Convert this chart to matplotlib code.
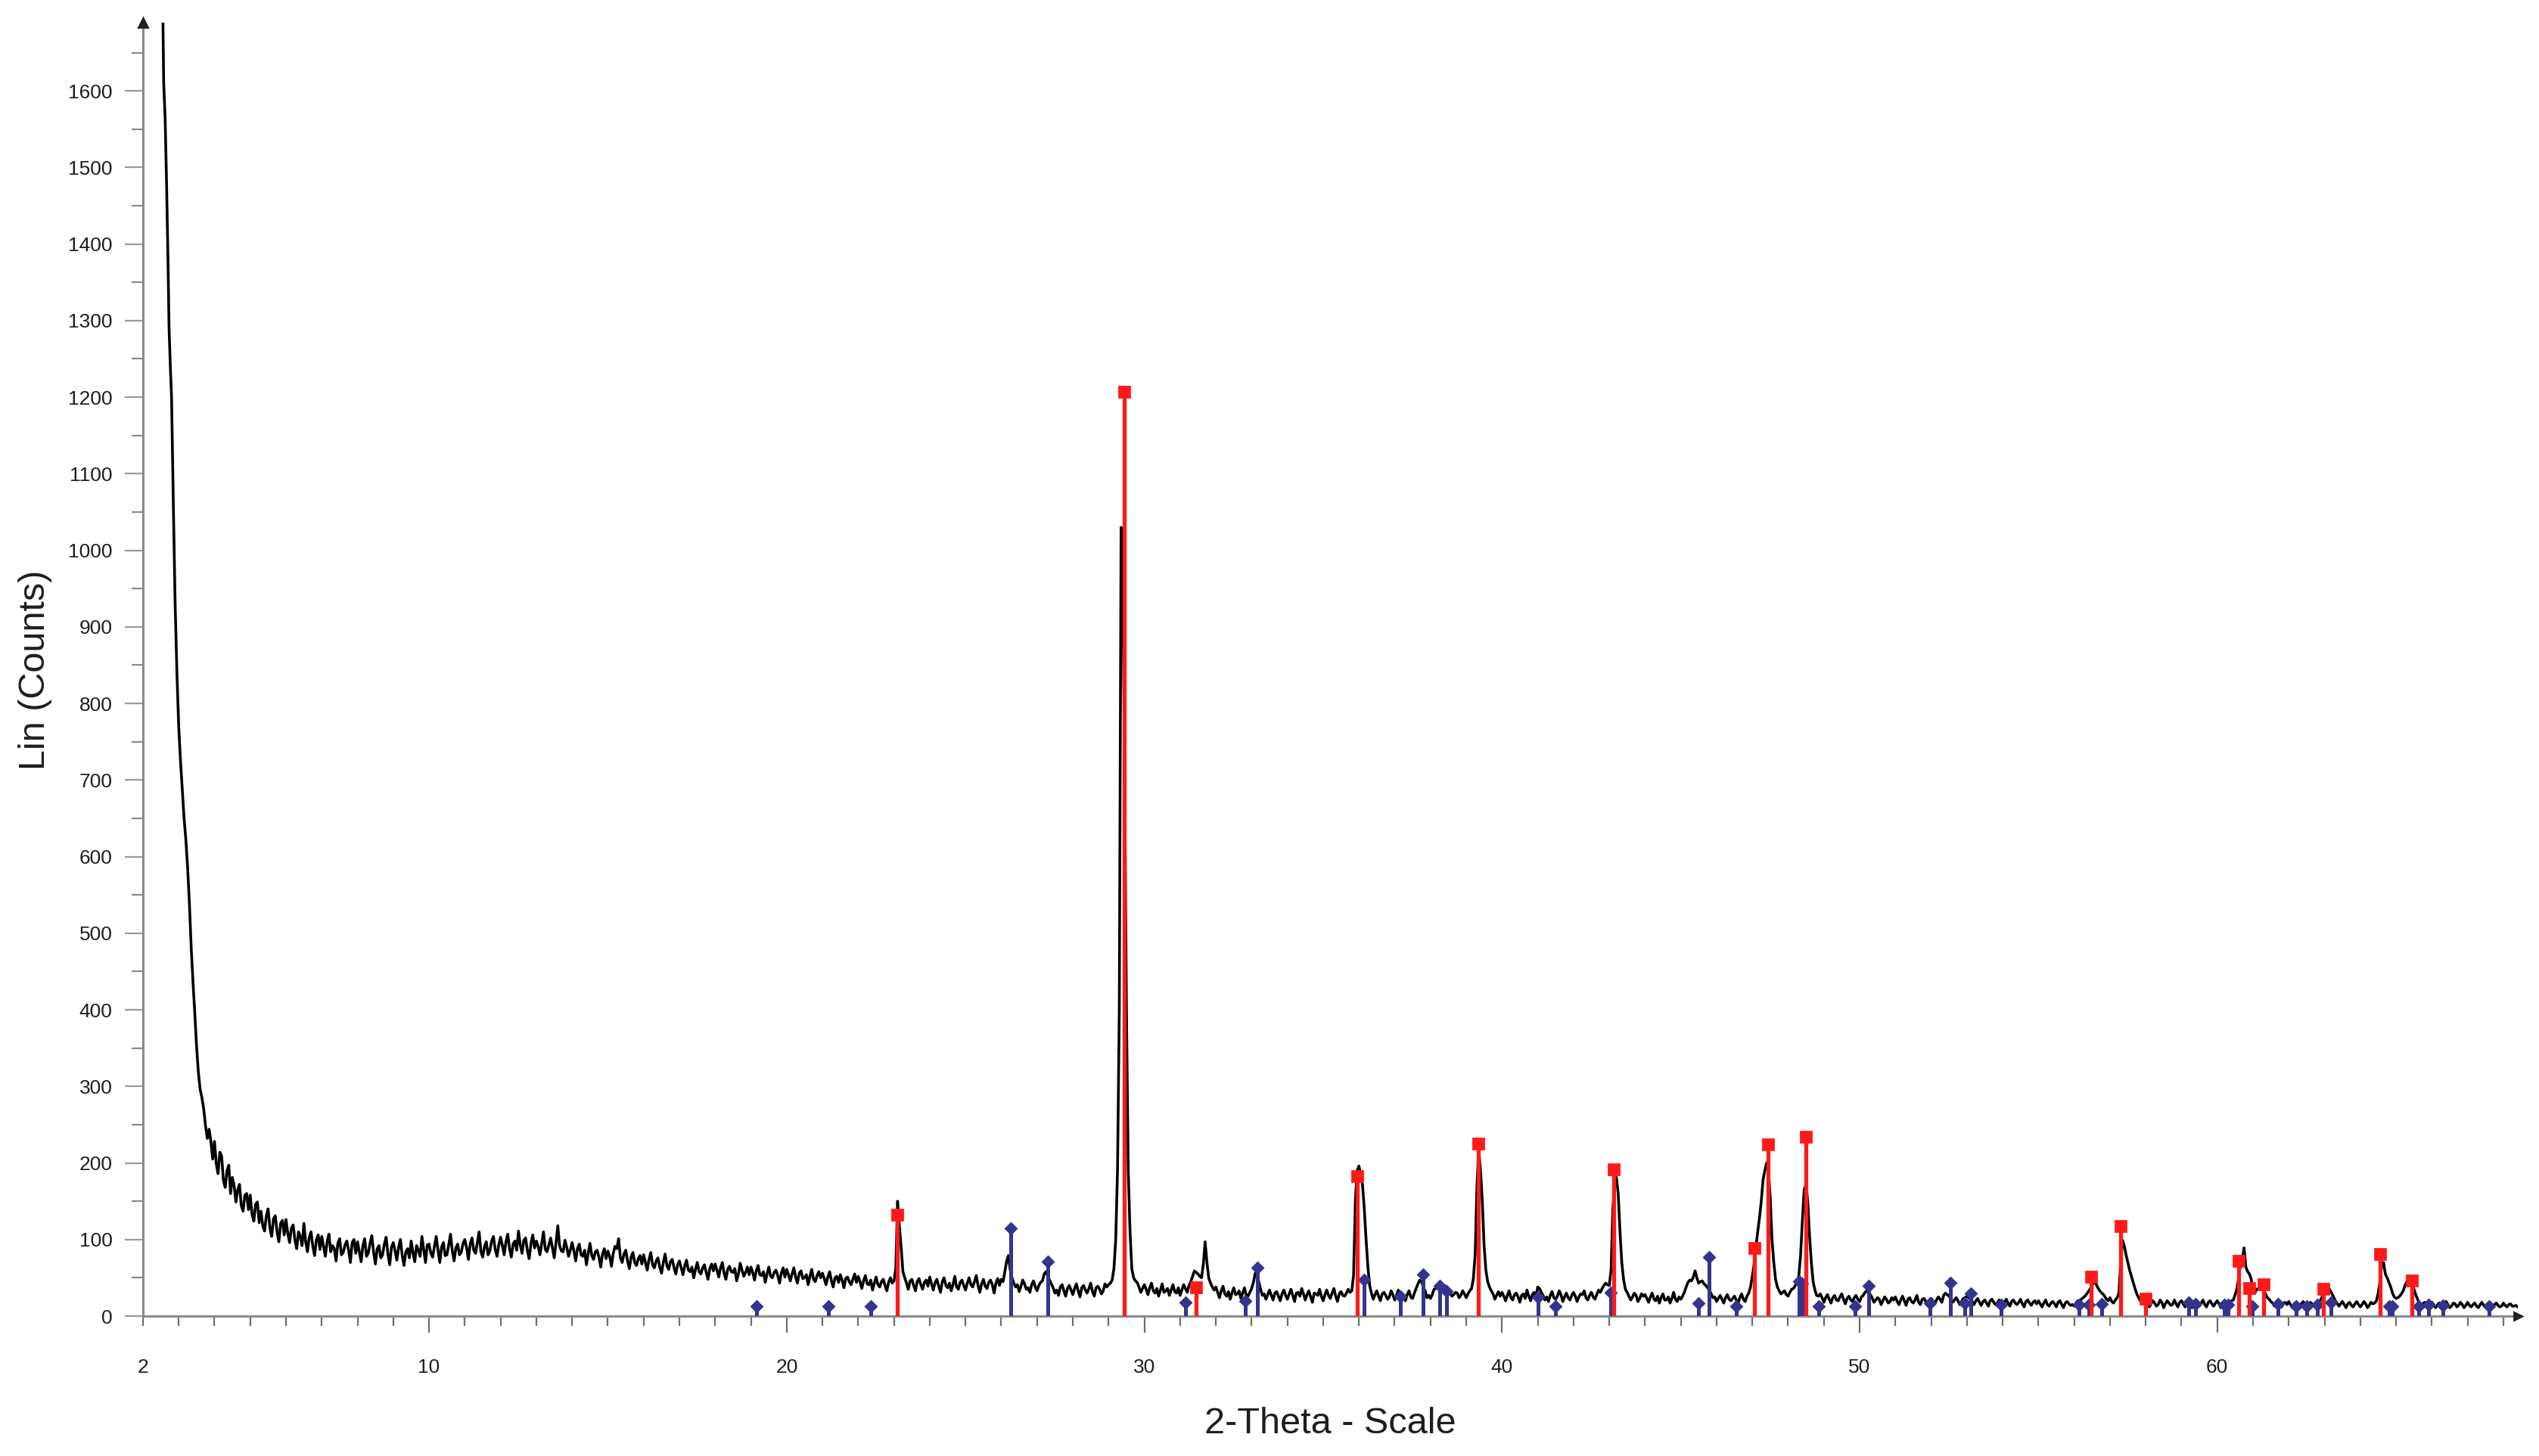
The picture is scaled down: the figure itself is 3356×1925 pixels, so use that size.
import numpy as np
import matplotlib.pyplot as plt
from matplotlib.ticker import MultipleLocator

plt.rcParams['font.family'] = ['Liberation Sans', 'DejaVu Sans']

# scan: one row of counts per degree, 0.05 deg apart
scan_start = 3.0
scan_step = 0.05
scan_counts = [
    [770, 725, 688, 650, 622, 585, 538, 480, 436, 395, 352, 318, 296, 285, 270, 248, 232, 244, 228, 205],  # 3
    [228, 199, 186, 214, 209, 177, 168, 190, 197, 160, 181, 170, 149, 165, 172, 144, 137, 158, 160, 139],  # 4
    [158, 133, 124, 146, 149, 122, 137, 118, 111, 131, 140, 115, 104, 127, 131, 110, 97, 121, 125, 106],   # 5
    [126, 108, 96, 115, 119, 99, 88, 110, 104, 92, 121, 97, 84, 103, 110, 91, 79, 100, 106, 87],           # 6
    [104, 91, 78, 97, 107, 84, 92, 88, 72, 95, 101, 80, 83, 93, 98, 86, 70, 96, 100, 82],                  # 7
    [97, 84, 71, 92, 101, 78, 82, 95, 105, 83, 68, 88, 92, 76, 80, 94, 103, 81, 67, 90],                   # 8
    [96, 85, 73, 90, 100, 79, 66, 84, 88, 76, 98, 83, 71, 92, 86, 78, 104, 87, 70, 93],                    # 9
    [94, 82, 77, 91, 104, 86, 70, 90, 96, 79, 80, 93, 107, 85, 72, 89, 94, 80, 83, 95],                    # 10
    [100, 89, 74, 94, 102, 86, 82, 96, 110, 84, 77, 91, 97, 80, 85, 98, 104, 87, 78, 93],                  # 11
    [103, 92, 80, 97, 107, 88, 77, 94, 98, 86, 111, 93, 82, 99, 102, 85, 75, 95, 106, 89],                 # 12
    [98, 91, 80, 95, 110, 87, 84, 93, 102, 89, 76, 96, 118, 92, 85, 84, 99, 90, 78, 86],                   # 13
    [96, 85, 72, 88, 94, 80, 78, 86, 67, 82, 95, 79, 74, 84, 86, 77, 64, 81, 88, 75],                      # 14
    [85, 78, 65, 82, 91, 88, 101, 76, 70, 81, 86, 72, 62, 77, 83, 70, 66, 75, 79, 68],                     # 15
    [80, 70, 60, 74, 83, 67, 63, 72, 76, 64, 56, 70, 81, 66, 61, 71, 74, 63, 55, 67],                      # 16
    [72, 63, 54, 66, 73, 60, 58, 64, 50, 61, 70, 58, 55, 63, 67, 57, 48, 62, 68, 59],                      # 17
    [68, 60, 51, 63, 70, 56, 48, 61, 65, 58, 57, 62, 46, 55, 69, 60, 52, 57, 64, 54],                      # 18
    [64, 57, 47, 59, 66, 54, 53, 58, 44, 55, 64, 52, 50, 57, 60, 53, 43, 56, 63, 51],                      # 19
    [61, 54, 46, 55, 63, 51, 43, 56, 59, 49, 50, 54, 41, 52, 61, 48, 45, 53, 58, 50],                      # 20
    [56, 49, 41, 51, 58, 46, 38, 50, 52, 44, 54, 47, 37, 49, 51, 45, 41, 48, 55, 44],                      # 21
    [52, 45, 36, 46, 53, 42, 41, 47, 34, 43, 51, 41, 38, 45, 48, 40, 33, 44, 50, 43],                      # 22
    [46, 62, 150, 118, 90, 58, 50, 43, 35, 46, 48, 40, 33, 45, 49, 41, 35, 44, 47, 39],                    # 23
    [51, 42, 34, 44, 48, 39, 31, 45, 50, 40, 37, 43, 33, 41, 52, 38, 35, 44, 47, 40],                      # 24
    [34, 43, 50, 41, 38, 45, 53, 40, 31, 42, 48, 39, 36, 44, 47, 41, 30, 43, 49, 40],                      # 25
    [48, 45, 58, 72, 79, 60, 50, 43, 38, 41, 32, 39, 47, 42, 35, 37, 31, 41, 46, 38],                      # 26
    [33, 40, 44, 46, 55, 58, 52, 47, 42, 37, 30, 34, 27, 38, 41, 33, 26, 36, 40, 34],                      # 27
    [28, 36, 42, 33, 25, 37, 40, 34, 30, 36, 43, 32, 26, 37, 39, 35, 29, 33, 42, 38],                      # 28
    [41, 43, 47, 62, 100, 190, 400, 1030, 950, 700, 400, 190, 110, 62, 50, 46, 44, 38, 31, 36],            # 29
    [41, 35, 28, 37, 43, 33, 30, 36, 26, 34, 42, 31, 33, 36, 27, 34, 41, 32, 30, 37],                      # 30
    [27, 34, 41, 36, 31, 40, 45, 52, 59, 57, 55, 52, 50, 68, 97, 70, 50, 43, 38, 34],                      # 31
    [38, 31, 24, 33, 39, 29, 26, 32, 22, 30, 37, 28, 29, 33, 23, 30, 37, 27, 26, 31],                      # 32
    [36, 44, 56, 52, 45, 35, 27, 29, 22, 28, 34, 27, 21, 30, 32, 26, 20, 29, 34, 27],                      # 33
    [22, 29, 35, 27, 19, 30, 31, 26, 36, 29, 21, 28, 33, 25, 18, 30, 29, 27, 35, 26],                      # 34
    [20, 28, 34, 27, 23, 30, 36, 26, 19, 29, 32, 27, 26, 30, 35, 31, 33, 53, 150, 190],                    # 35
    [196, 185, 172, 140, 100, 65, 40, 30, 22, 28, 33, 26, 20, 29, 31, 27, 22, 25, 33, 28],                 # 36
    [21, 27, 34, 29, 24, 26, 20, 28, 33, 25, 23, 30, 36, 42, 47, 45, 38, 33, 24, 27],                      # 37
    [23, 28, 35, 36, 40, 42, 37, 39, 40, 37, 33, 31, 26, 28, 31, 30, 24, 27, 33, 29],                      # 38
    [24, 29, 33, 36, 49, 80, 170, 217, 190, 150, 92, 60, 45, 38, 33, 29, 22, 27, 32, 26],                  # 39
    [31, 26, 20, 27, 33, 24, 21, 28, 30, 25, 18, 27, 29, 23, 34, 26, 20, 28, 31, 24],                      # 40
    [38, 36, 31, 27, 21, 25, 19, 27, 32, 24, 22, 26, 33, 28, 19, 25, 30, 24, 21, 27],                      # 41
    [31, 26, 19, 25, 29, 28, 33, 24, 21, 27, 31, 25, 22, 28, 34, 31, 36, 40, 43, 41],                      # 42
    [40, 60, 140, 175, 181, 160, 110, 70, 48, 35, 31, 26, 21, 25, 30, 27, 19, 23, 29, 26],                 # 43
    [28, 23, 18, 25, 30, 22, 20, 26, 17, 24, 29, 21, 21, 25, 17, 23, 31, 22, 19, 25],                      # 44
    [22, 26, 31, 38, 44, 47, 46, 51, 59, 50, 43, 45, 46, 42, 40, 37, 34, 29, 24, 25],                      # 45
    [19, 23, 27, 22, 17, 24, 28, 22, 20, 23, 26, 21, 16, 24, 29, 22, 19, 26, 30, 38],                      # 46
    [52, 68, 90, 110, 128, 150, 178, 190, 200, 190, 155, 100, 70, 48, 38, 33, 29, 31, 33, 28],             # 47
    [26, 31, 35, 36, 40, 44, 52, 80, 125, 165, 172, 150, 105, 70, 45, 34, 27, 26, 29, 24],                 # 48
    [18, 24, 28, 22, 17, 24, 27, 21, 20, 25, 29, 22, 16, 23, 26, 21, 19, 24, 27, 22],                      # 49
    [19, 25, 27, 31, 33, 30, 28, 24, 18, 21, 24, 22, 15, 20, 25, 22, 17, 19, 24, 21],                      # 50
    [25, 19, 15, 21, 26, 20, 14, 22, 24, 19, 17, 21, 27, 18, 15, 22, 23, 19, 16, 20],                      # 51
    [23, 20, 16, 21, 25, 22, 18, 27, 30, 28, 26, 23, 18, 21, 24, 20, 15, 19, 23, 24],                      # 52
    [26, 24, 22, 19, 15, 20, 23, 18, 14, 19, 21, 17, 13, 20, 22, 18, 15, 17, 21, 19],                      # 53
    [14, 18, 22, 17, 13, 19, 21, 17, 15, 18, 22, 16, 12, 19, 21, 17, 14, 18, 20, 16],                      # 54
    [20, 16, 12, 17, 21, 15, 13, 17, 19, 16, 12, 18, 20, 15, 11, 17, 19, 16, 14, 15],                      # 55
    [13, 17, 20, 19, 22, 24, 26, 29, 32, 36, 40, 44, 43, 38, 34, 31, 29, 26, 22, 20],                      # 56
    [24, 19, 17, 21, 24, 30, 70, 99, 92, 80, 70, 60, 52, 44, 36, 29, 24, 20, 17, 19],                      # 57
    [21, 17, 12, 16, 20, 17, 13, 15, 21, 18, 11, 16, 20, 17, 14, 15, 21, 16, 12, 18],                      # 58
    [20, 16, 12, 17, 21, 15, 11, 18, 19, 16, 13, 17, 21, 15, 12, 18, 20, 16, 13, 17],                      # 59
    [20, 16, 11, 17, 19, 15, 14, 17, 20, 21, 28, 36, 50, 68, 75, 89, 64, 58, 55, 48],                      # 60
    [32, 30, 35, 36, 37, 36, 33, 29, 24, 22, 19, 17, 13, 16, 19, 15, 12, 17, 18, 15],                      # 61
    [19, 15, 11, 16, 18, 14, 12, 16, 19, 15, 11, 14, 18, 16, 13, 15, 17, 18, 22, 27],                      # 62
    [30, 37, 38, 34, 30, 25, 20, 17, 13, 16, 19, 15, 11, 16, 18, 14, 12, 16, 19, 15],                      # 63
    [12, 15, 19, 16, 11, 14, 18, 16, 17, 20, 30, 45, 68, 70, 55, 50, 44, 38, 30, 25],                      # 64
    [23, 24, 26, 29, 33, 40, 45, 48, 49, 42, 35, 28, 22, 17, 14, 16, 18, 15, 12, 16],                      # 65
    [18, 15, 11, 14, 17, 16, 12, 14, 19, 15, 11, 13, 17, 16, 12, 14, 18, 15, 11, 14],                      # 66
    [18, 14, 12, 15, 17, 13, 11, 15, 18, 14, 12, 16, 17, 13, 13, 15, 17, 14, 12, 13],                      # 67
    [17, 14, 12, 15, 16, 13, 13, 14, 12],                                                                  # 68
]

# steep low-angle start, read point by point (goes off the top of the plot)
start_theta = [2.54, 2.56, 2.58, 2.62, 2.66, 2.70, 2.73, 2.77, 2.80, 2.85, 2.90, 2.95]
start_counts = [1760, 1690, 1610, 1565, 1480, 1380, 1290, 1235, 1200, 1060, 930, 840]

# red reference lines (square markers)
red_theta = [23.10, 29.43, 31.44, 35.95, 39.33, 43.12, 47.07, 47.45, 48.49,
             56.48, 57.29, 58.00, 60.60, 60.90, 61.29, 62.97, 64.55, 65.45]
red_counts = [132, 1207, 38, 183, 225, 192, 89, 224, 234,
              51, 118, 23, 72, 37, 41, 36, 81, 46]

# blue reference lines (diamond markers)
blue_theta = [19.15, 21.16, 22.36, 26.27, 27.30, 31.16, 32.83, 33.17, 36.15, 37.15,
              37.80, 38.25, 38.46, 41.00, 41.50, 43.03, 45.50, 45.80, 46.55, 48.30,
              48.40, 48.86, 49.87, 50.25, 51.97, 52.53, 52.95, 53.10, 53.96, 56.13,
              56.40, 56.76, 59.20, 59.40, 60.20, 60.30, 60.97, 61.70, 62.20, 62.50,
              62.80, 63.18, 64.80, 64.90, 65.64, 65.90, 66.30, 67.60]
blue_counts = [13, 13, 13, 115, 71, 18, 20, 63, 47, 26,
               54, 40, 33, 25, 13, 31, 17, 77, 13, 45,
               42, 13, 13, 40, 17, 43, 17, 30, 15, 15,
               15, 16, 18, 16, 15, 15, 13, 16, 13, 13,
               15, 18, 13, 13, 13, 15, 14, 13]

x_labels = [2, 10, 20, 30, 40, 50, 60]
y_labels = list(range(0, 1601, 100))

RED = '#ff1a1a'
BLUE = '#34348f'
AXIS = '#8a8a8a'

counts = np.concatenate([np.asarray(r, dtype=float) for r in scan_counts])
theta = np.round(scan_start + scan_step * np.arange(counts.size), 2)
theta = np.concatenate([start_theta, theta])
counts = np.concatenate([start_counts, counts])

fig = plt.figure(figsize=(16.78, 9.625), dpi=200)
ax = fig.add_axes([0.0563, 0.0961, 0.9353, 0.8883])

ax.plot(theta, counts, color='black', lw=1.3, zorder=2)
ax.vlines(blue_theta, 0, blue_counts, color=BLUE, lw=1.8, zorder=3)
ax.plot(blue_theta, blue_counts, 'D', ms=3.4, color=BLUE, zorder=4)
ax.vlines(red_theta, 0, red_counts, color=RED, lw=1.9, zorder=5)
ax.plot(red_theta, red_counts, 's', ms=5.2, color=RED, zorder=6)

ax.set_xlim(2, 68.4)
ax.set_ylim(0, 1689)

for side in ('top', 'right'):
    ax.spines[side].set_visible(False)
for side in ('left', 'bottom'):
    ax.spines[side].set_color(AXIS)
    ax.spines[side].set_linewidth(1.1)

ax.set_xticks(x_labels)
ax.set_xticklabels([str(v) for v in x_labels])
ax.xaxis.set_minor_locator(MultipleLocator(1))
ax.set_yticks(y_labels)
ax.set_yticklabels([str(v) for v in y_labels])
ax.yaxis.set_minor_locator(MultipleLocator(50))

ax.tick_params(axis='x', which='major', length=8, width=0.8, color='#6e6e6e',
               pad=12, labelsize=9.5, labelcolor='#1e1e1e')
ax.tick_params(axis='x', which='minor', length=4.7, width=0.8, color='#6e6e6e')
ax.tick_params(axis='y', which='major', length=8.5, width=0.8, color='#9a9a9a',
               pad=6, labelsize=9.5, labelcolor='#1e1e1e')
ax.tick_params(axis='y', which='minor', length=5.4, width=0.8, color='#8a8a8a')
ax.xaxis.get_major_ticks()[0].tick1line.set_markersize(4.7)

# small arrow heads at the ends of the axes
ax.plot([2], [1689], marker='^', ms=4, color='#222222', clip_on=False, zorder=7)
ax.plot([68.4], [0], marker='>', ms=3.5, color='#222222', clip_on=False, zorder=7)

fig.text(0.014, 0.54, 'Lin (Counts)', rotation=90, ha='center', va='center',
         fontsize=17.5, color='#1e1e1e')
fig.text(0.524, 0.022, '2-Theta - Scale', ha='center', va='center',
         fontsize=17.5, color='#1e1e1e')

fig.savefig('out.png', dpi=200)
